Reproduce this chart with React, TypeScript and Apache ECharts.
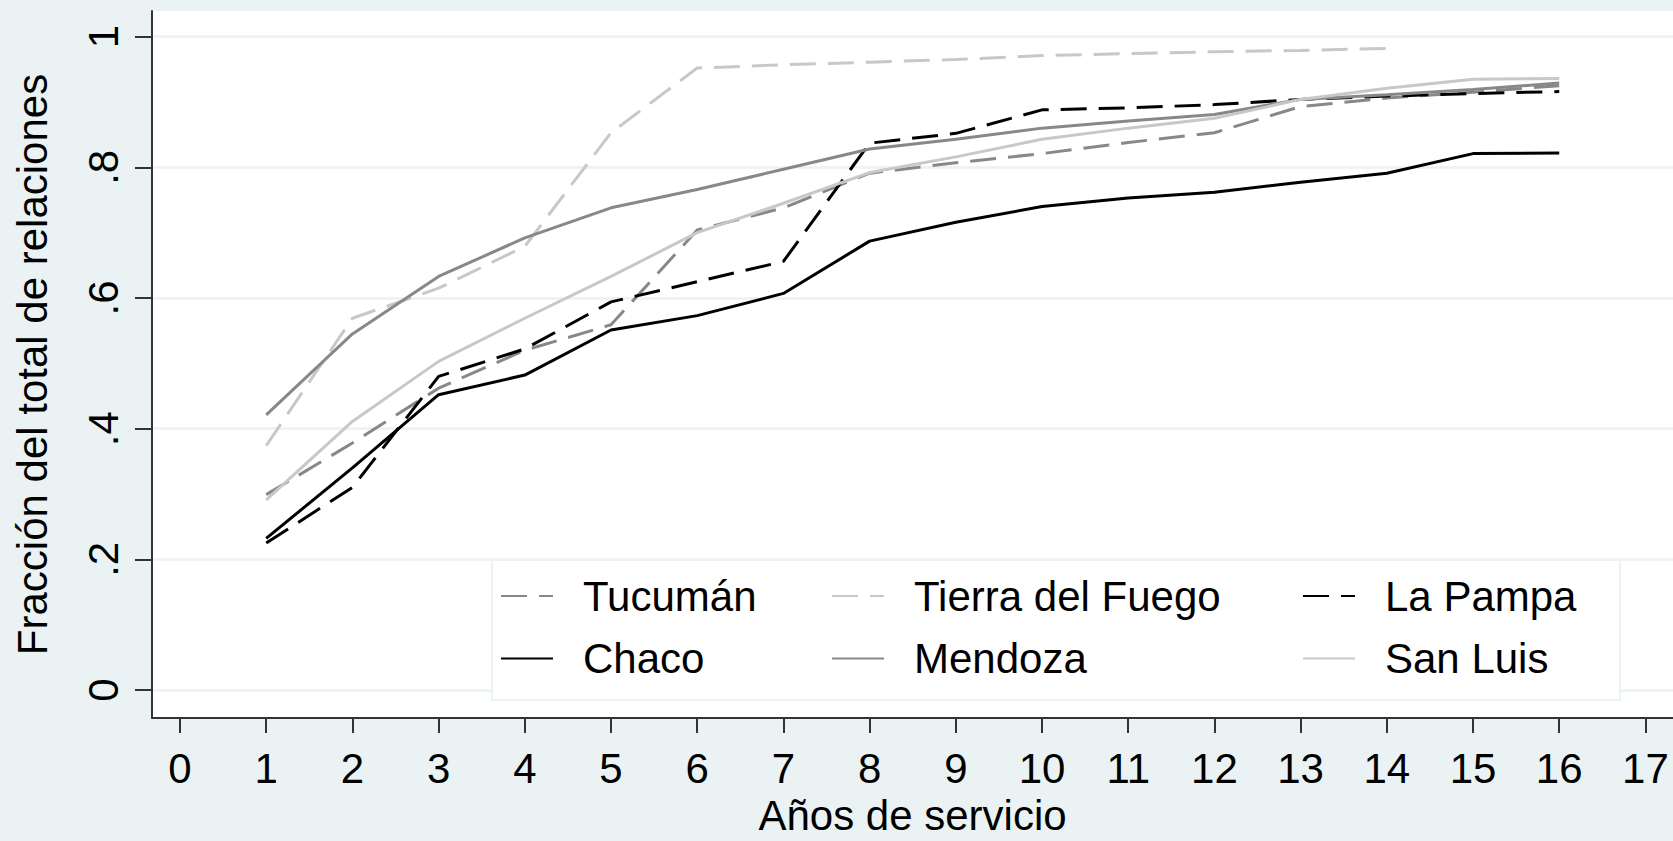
import React, { useEffect, useRef } from "react";
import * as echarts from "echarts";

const years = [1, 2, 3, 4, 5, 6, 7, 8, 9, 10, 11, 12, 13, 14, 15, 16];
const xTicks = [0, 1, 2, 3, 4, 5, 6, 7, 8, 9, 10, 11, 12, 13, 14, 15, 16, 17];
const yTicks = [0, 0.2, 0.4, 0.6, 0.8, 1];

const tucuman = [0.299, 0.378, 0.462, 0.52, 0.559, 0.704, 0.738, 0.791, 0.807, 0.821, 0.838, 0.853, 0.893, 0.906, 0.915, 0.925];
const tierraDelFuego = [0.374, 0.569, 0.615, 0.679, 0.853, 0.952, 0.957, 0.961, 0.965, 0.971, 0.974, 0.977, 0.979, 0.982];
const laPampa = [0.225, 0.31, 0.48, 0.522, 0.594, 0.625, 0.656, 0.837, 0.852, 0.888, 0.891, 0.896, 0.904, 0.909, 0.913, 0.916];
const chaco = [0.232, 0.34, 0.452, 0.482, 0.551, 0.573, 0.607, 0.687, 0.716, 0.74, 0.753, 0.762, 0.777, 0.791, 0.821, 0.822];
const mendoza = [0.421, 0.545, 0.633, 0.692, 0.738, 0.766, 0.797, 0.828, 0.843, 0.86, 0.871, 0.881, 0.904, 0.911, 0.919, 0.929];
const sanLuis = [0.291, 0.411, 0.503, 0.569, 0.633, 0.7, 0.745, 0.792, 0.816, 0.843, 0.86, 0.875, 0.904, 0.921, 0.935, 0.936];

const FONT = "Liberation Sans, Arial, sans-serif";
const FS = 42;
const MID = "#888888";
const LIGHT = "#c8c8c8";
const BG = "#EAF2F3";

function pairs(vals: number[]) {
  return vals.map((v, i) => [years[i], v]);
}

function mk(name: string, vals: number[], color: string, dashed: boolean) {
  return {
    name,
    type: "line",
    data: pairs(vals),
    symbol: "none",
    showSymbol: false,
    lineStyle: { color, width: 3, type: dashed ? [26, 12] : "solid" },
    itemStyle: { color },
    z: 2,
  };
}

export default function App() {
  const ref = useRef<HTMLDivElement>(null);
  useEffect(() => {
    if (!ref.current) return;
    const chart = echarts.init(ref.current, undefined, { renderer: "svg" });
    const legendCommon = {
      orient: "vertical",
      top: 574,
      padding: 0,
      itemWidth: 52,
      itemHeight: 14,
      itemGap: 18.5,
      selectedMode: false,
      itemStyle: { color: "transparent", borderColor: "transparent", borderWidth: 0, opacity: 0 },
      textStyle: {
        fontFamily: FONT,
        fontSize: FS,
        color: "#000",
        lineHeight: 44,
        padding: [0, 0, 0, 25],
      },
      z: 5,
    };
    chart.setOption({
      animation: false,
      backgroundColor: BG,
      textStyle: { fontFamily: FONT },
      grid: {
        left: 152,
        right: 0,
        top: 11,
        bottom: 123,
        containLabel: false,
        outerBoundsMode: "none",
        show: true,
        backgroundColor: "#ffffff",
        borderWidth: 0,
      },
      xAxis: {
        type: "value",
        min: -0.325,
        max: 17.32,
        name: "Años de servicio",
        nameLocation: "middle",
        nameGap: 81,
        nameTextStyle: { fontFamily: FONT, fontSize: FS, color: "#000", lineHeight: 32 },
        axisLine: { show: true, onZero: false, lineStyle: { color: "#333", width: 2 } },
        axisTick: { show: true, length: 15, lineStyle: { color: "#333", width: 2 }, customValues: xTicks },
        axisLabel: {
          customValues: xTicks,
          margin: 29,
          fontFamily: FONT,
          fontSize: FS,
          color: "#000",
          lineHeight: 42,
        },
        splitLine: { show: false },
      },
      yAxis: {
        type: "value",
        min: -0.0429,
        max: 1.0393,
        name: "Fracción del total de relaciones",
        nameLocation: "middle",
        nameGap: 99,
        nameTextStyle: { fontFamily: FONT, fontSize: FS, color: "#000", lineHeight: 42 },
        axisLine: { show: true, onZero: false, lineStyle: { color: "#333", width: 2 } },
        axisTick: { show: true, length: 17, lineStyle: { color: "#333", width: 2 }, customValues: yTicks },
        axisLabel: {
          customValues: yTicks,
          rotate: 90,
          margin: 27.5,
          fontFamily: FONT,
          fontSize: FS,
          color: "#000",
          lineHeight: 42,
          formatter: (v: number) => (v === 0 ? "0" : v === 1 ? "1" : String(v).replace(/^0/, "")),
        },
        splitLine: { show: true, lineStyle: { color: BG, width: 2.5 } },
      },
      legend: [
        { ...legendCommon, left: 500, data: ["Tucumán", "Chaco"] },
        { ...legendCommon, left: 831, data: ["Tierra del Fuego", "Mendoza"] },
        { ...legendCommon, left: 1302, data: ["La Pampa", "San Luis"] },
      ],
      graphic: [
        {
          type: "rect",
          z: 4,
          shape: { x: 492, y: 560, width: 1128, height: 140 },
          style: { fill: "#ffffff", stroke: BG, lineWidth: 2 },
          silent: true,
        },
      ],
      series: [
        mk("Tucumán", tucuman, MID, true),
        mk("Tierra del Fuego", tierraDelFuego, LIGHT, true),
        mk("La Pampa", laPampa, "#000000", true),
        mk("Chaco", chaco, "#000000", false),
        mk("Mendoza", mendoza, MID, false),
        mk("San Luis", sanLuis, LIGHT, false),
      ],
    });
    return () => chart.dispose();
  }, []);
  return (
    <div
      ref={ref}
      style={{ position: "fixed", left: 0, top: 0, width: 1673, height: 841 }}
    />
  );
}
